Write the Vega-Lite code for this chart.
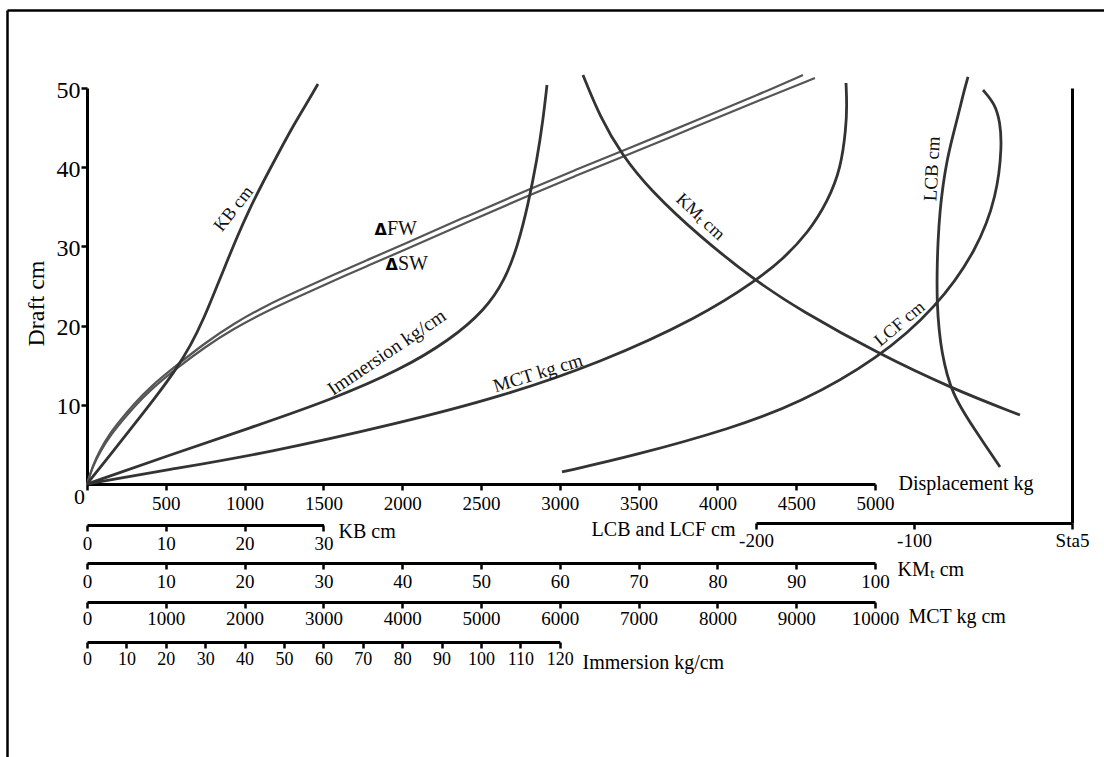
{
  "$schema": "https://vega.github.io/schema/vega-lite/v6.json",
  "autosize": "none",
  "width": 985,
  "height": 396,
  "padding": {"left": 87, "top": 88, "right": 32, "bottom": 273},
  "background": "white",
  "config": {
    "view": {"stroke": null},
    "axis": {
      "grid": false,
      "domainColor": "black",
      "domainWidth": 3,
      "tickColor": "black",
      "tickWidth": 2.5,
      "tickSize": 6,
      "labelColor": "black",
      "titleColor": "black",
      "labelFont": "Liberation Serif",
      "titleFont": "Liberation Serif",
      "titleFontWeight": "normal",
      "titleFontSize": 20,
      "labelFontSize": 19,
      "labelFlush": false,
      "labelOverlap": false,
      "labelBound": false
    },
    "text": {"font": "Liberation Serif", "fill": "#111"}
  },
  "datasets": {
    "displacement": [
      {"water": "FW", "displacement": 0, "draft": 0},
      {"water": "FW", "displacement": 38, "draft": 2.4},
      {"water": "FW", "displacement": 82, "draft": 4.29},
      {"water": "FW", "displacement": 146, "draft": 6.44},
      {"water": "FW", "displacement": 222, "draft": 8.33},
      {"water": "FW", "displacement": 292, "draft": 9.97},
      {"water": "FW", "displacement": 400, "draft": 12.25},
      {"water": "FW", "displacement": 571, "draft": 15.03},
      {"water": "FW", "displacement": 749, "draft": 17.8},
      {"water": "FW", "displacement": 926, "draft": 20.2},
      {"water": "FW", "displacement": 1142, "draft": 22.6},
      {"water": "FW", "displacement": 1351, "draft": 24.49},
      {"water": "FW", "displacement": 1561, "draft": 26.39},
      {"water": "FW", "displacement": 1777, "draft": 28.28},
      {"water": "FW", "displacement": 1986, "draft": 30.05},
      {"water": "FW", "displacement": 2398, "draft": 33.71},
      {"water": "FW", "displacement": 2811, "draft": 37.25},
      {"water": "FW", "displacement": 3096, "draft": 39.65},
      {"water": "FW", "displacement": 3382, "draft": 41.92},
      {"water": "FW", "displacement": 3889, "draft": 46.09},
      {"water": "FW", "displacement": 4270, "draft": 49.24},
      {"water": "FW", "displacement": 4543, "draft": 51.64},
      {"water": "SW", "displacement": 0, "draft": 0},
      {"water": "SW", "displacement": 38, "draft": 2.27},
      {"water": "SW", "displacement": 82, "draft": 4.04},
      {"water": "SW", "displacement": 146, "draft": 6.06},
      {"water": "SW", "displacement": 222, "draft": 7.95},
      {"water": "SW", "displacement": 292, "draft": 9.6},
      {"water": "SW", "displacement": 400, "draft": 11.87},
      {"water": "SW", "displacement": 571, "draft": 14.65},
      {"water": "SW", "displacement": 749, "draft": 17.3},
      {"water": "SW", "displacement": 926, "draft": 19.57},
      {"water": "SW", "displacement": 1142, "draft": 21.84},
      {"water": "SW", "displacement": 1351, "draft": 23.74},
      {"water": "SW", "displacement": 1561, "draft": 25.63},
      {"water": "SW", "displacement": 1777, "draft": 27.53},
      {"water": "SW", "displacement": 1986, "draft": 29.29},
      {"water": "SW", "displacement": 2398, "draft": 32.95},
      {"water": "SW", "displacement": 2811, "draft": 36.49},
      {"water": "SW", "displacement": 3096, "draft": 38.89},
      {"water": "SW", "displacement": 3382, "draft": 41.16},
      {"water": "SW", "displacement": 3889, "draft": 45.33},
      {"water": "SW", "displacement": 4270, "draft": 48.48},
      {"water": "SW", "displacement": 4619, "draft": 51.26}
    ],
    "kb": [
      {"kb": 0, "draft": 0},
      {"kb": 2.92, "draft": 3.66},
      {"kb": 5.84, "draft": 7.32},
      {"kb": 8.63, "draft": 10.86},
      {"kb": 11.17, "draft": 14.27},
      {"kb": 13.2, "draft": 17.55},
      {"kb": 14.85, "draft": 20.96},
      {"kb": 16.24, "draft": 24.37},
      {"kb": 17.64, "draft": 27.78},
      {"kb": 19.04, "draft": 31.19},
      {"kb": 20.56, "draft": 34.6},
      {"kb": 22.34, "draft": 38.13},
      {"kb": 24.24, "draft": 41.67},
      {"kb": 26.14, "draft": 45.2},
      {"kb": 28.3, "draft": 48.74},
      {"kb": 29.31, "draft": 50.51}
    ],
    "immersion": [
      {"immersion": 0, "draft": 0},
      {"immersion": 20.3, "draft": 3.54},
      {"immersion": 41.37, "draft": 7.07},
      {"immersion": 62.44, "draft": 10.73},
      {"immersion": 79.44, "draft": 14.39},
      {"immersion": 92.13, "draft": 18.18},
      {"immersion": 101.02, "draft": 21.97},
      {"immersion": 106.09, "draft": 25.76},
      {"immersion": 109.39, "draft": 30.18},
      {"immersion": 111.93, "draft": 35.23},
      {"immersion": 114.21, "draft": 40.91},
      {"immersion": 115.74, "draft": 45.96},
      {"immersion": 116.75, "draft": 50.38}
    ],
    "mct": [
      {"mct": 0, "draft": 0},
      {"mct": 1015, "draft": 1.77},
      {"mct": 2284, "draft": 3.91},
      {"mct": 3972, "draft": 7.7},
      {"mct": 5241, "draft": 10.98},
      {"mct": 6510, "draft": 15.28},
      {"mct": 7779, "draft": 21.09},
      {"mct": 8502, "draft": 25.76},
      {"mct": 8832, "draft": 28.41},
      {"mct": 9149, "draft": 31.69},
      {"mct": 9403, "draft": 35.73},
      {"mct": 9568, "draft": 39.9},
      {"mct": 9632, "draft": 44.95},
      {"mct": 9644, "draft": 47.85},
      {"mct": 9632, "draft": 50.63}
    ],
    "kmt": [
      {"kmt": 62.94, "draft": 51.64},
      {"kmt": 65.1, "draft": 46.34},
      {"kmt": 67.89, "draft": 41.54},
      {"kmt": 71.45, "draft": 37.12},
      {"kmt": 77.79, "draft": 31.19},
      {"kmt": 85.03, "draft": 25.51},
      {"kmt": 90.48, "draft": 21.97},
      {"kmt": 100.25, "draft": 16.54},
      {"kmt": 109.9, "draft": 11.99},
      {"kmt": 118.4, "draft": 8.71}
    ],
    "lcb": [
      {"lcb": -65.82, "draft": 51.39},
      {"lcb": -68.99, "draft": 49.12},
      {"lcb": -71.52, "draft": 46.97},
      {"lcb": -75.32, "draft": 44.07},
      {"lcb": -79.11, "draft": 40.91},
      {"lcb": -81.65, "draft": 37.75},
      {"lcb": -83.54, "draft": 34.6},
      {"lcb": -84.81, "draft": 30.81},
      {"lcb": -85.44, "draft": 27.02},
      {"lcb": -85.44, "draft": 22.85},
      {"lcb": -84.18, "draft": 19.44},
      {"lcb": -82.28, "draft": 16.54},
      {"lcb": -79.11, "draft": 13.76},
      {"lcb": -75.32, "draft": 11.49},
      {"lcb": -68.35, "draft": 8.96},
      {"lcb": -60.13, "draft": 6.44},
      {"lcb": -45.57, "draft": 2.15}
    ],
    "lcf": [
      {"lcf": -322.78, "draft": 1.52},
      {"lcf": -277.85, "draft": 3.54},
      {"lcf": -214.56, "draft": 7.07},
      {"lcf": -172.15, "draft": 10.23},
      {"lcf": -122.78, "draft": 15.78},
      {"lcf": -85.44, "draft": 22.35},
      {"lcf": -60.13, "draft": 29.55},
      {"lcf": -47.47, "draft": 36.36},
      {"lcf": -44.3, "draft": 42.8},
      {"lcf": -45.57, "draft": 45.71},
      {"lcf": -48.73, "draft": 47.98},
      {"lcf": -56.33, "draft": 49.75}
    ]
  },
  "resolve": {
    "scale": {"x": "independent", "y": "independent"},
    "axis": {"x": "independent", "y": "independent"}
  },
  "layer": [
    {
      "layer": [
        {
          "data": {"name": "displacement"},
          "mark": {"type": "line", "interpolate": "basis", "stroke": "#555555", "strokeWidth": 2.2},
          "encoding": {
            "x": {
              "field": "displacement", "type": "quantitative",
              "scale": {"domain": [0, 5000], "range": [0, 788], "nice": false, "zero": false},
              "axis": {
                "orient": "bottom",
                "values": [0, 500, 1000, 1500, 2000, 2500, 3000, 3500, 4000, 4500, 5000],
                "format": "d",
                "title": "Displacement kg",
                "titleX": 811, "titleY": 5, "titleAlign": "left", "titleBaseline": "alphabetic",
                "labelFontSize": {"condition": {"test": "datum.value == 0", "value": 22}, "value": 19},
                "labelOffset": {"condition": {"test": "datum.value == 0", "value": -8}, "value": 0},
                "labelPadding": {"condition": {"test": "datum.value == 0", "value": -4}, "value": 4}
              }
            },
            "y": {
              "field": "draft", "type": "quantitative",
              "scale": {"domain": [0, 50], "nice": false, "zero": false},
              "axis": {
                "orient": "left",
                "values": [10, 20, 30, 40, 50],
                "labelFontSize": 24, "labelPadding": 1, "labelOffset": 2,
                "title": "Draft cm", "titleFontSize": 24,
                "titleX": -51, "titleY": 215, "titleAngle": -90,
                "titleAlign": "center", "titleBaseline": "middle"
              }
            },
            "detail": {"field": "water"},
            "order": {"field": "draft"}
          }
        },
        {
          "data": {"values": [
            {"sym": "Δ", "name": "FW", "displacement": 1903, "draft": 31.44},
            {"sym": "Δ", "name": "SW", "displacement": 1973, "draft": 27.02}
          ]},
          "mark": {"type": "text", "align": "right", "baseline": "alphabetic", "font": "DejaVu Sans", "fontWeight": "bold", "fontSize": 16, "fill": "black"},
          "encoding": {
            "x": {"field": "displacement", "type": "quantitative"},
            "y": {"field": "draft", "type": "quantitative"},
            "text": {"field": "sym"}
          }
        },
        {
          "data": {"values": [
            {"sym": "Δ", "name": "FW", "displacement": 1903, "draft": 31.44},
            {"sym": "Δ", "name": "SW", "displacement": 1973, "draft": 27.02}
          ]},
          "mark": {"type": "text", "align": "left", "baseline": "alphabetic", "fontSize": 20},
          "encoding": {
            "x": {"field": "displacement", "type": "quantitative"},
            "y": {"field": "draft", "type": "quantitative"},
            "text": {"field": "name"}
          }
        }
      ]
    },
    {
      "layer": [
        {
          "data": {"name": "kb"},
          "mark": {"type": "line", "interpolate": "basis", "stroke": "#333333", "strokeWidth": 2.8},
          "encoding": {
            "x": {
              "field": "kb", "type": "quantitative",
              "scale": {"domain": [0, 30], "range": [0, 236.4], "nice": false, "zero": false},
              "axis": {
                "orient": "bottom", "offset": 41, "values": [0, 10, 20, 30],
                "title": "KB cm", "titleX": 251, "titleY": 12, "titleAlign": "left", "titleBaseline": "alphabetic",
                "labelPadding": 3
              }
            },
            "y": {
              "field": "draft", "type": "quantitative",
              "scale": {"domain": [-34.47, 59.848], "range": [669, -78], "nice": false, "zero": false},
              "axis": {"orient": "left", "offset": 80, "ticks": false, "labels": false, "title": null, "domainWidth": 2.5}
            },
            "order": {"field": "draft"}
          }
        },
        {
          "data": {"values": [{"label": "KB cm", "kb": 18.65, "draft": 34.72}]},
          "mark": {"type": "text", "angle": -52, "align": "center", "baseline": "middle", "fontSize": 18},
          "encoding": {
            "x": {"field": "kb", "type": "quantitative"},
            "y": {"field": "draft", "type": "quantitative"},
            "text": {"field": "label"}
          }
        }
      ]
    },
    {
      "layer": [
        {
          "data": {"name": "kmt"},
          "mark": {"type": "line", "interpolate": "basis", "stroke": "#333333", "strokeWidth": 2.8},
          "encoding": {
            "x": {
              "field": "kmt", "type": "quantitative",
              "scale": {"domain": [0, 100], "range": [0, 788], "nice": false, "zero": false},
              "axis": {
                "orient": "bottom", "offset": 79, "values": [0, 10, 20, 30, 40, 50, 60, 70, 80, 90, 100],
                "title": "KMₜ cm", "titleX": 810, "titleY": 12, "titleAlign": "left", "titleBaseline": "alphabetic",
                "labelPadding": 3
              }
            },
            "y": {
              "field": "draft", "type": "quantitative",
              "scale": {"domain": [0, 50], "nice": false, "zero": false},
              "axis": null
            },
            "order": {"field": "draft"}
          }
        },
        {
          "data": {"values": [{"label": "KMₜ cm", "kmt": 77.8, "draft": 33.7}]},
          "mark": {"type": "text", "angle": 43, "align": "center", "baseline": "middle", "fontSize": 18},
          "encoding": {
            "x": {"field": "kmt", "type": "quantitative"},
            "y": {"field": "draft", "type": "quantitative"},
            "text": {"field": "label"}
          }
        }
      ]
    },
    {
      "layer": [
        {
          "data": {"name": "mct"},
          "mark": {"type": "line", "interpolate": "basis", "stroke": "#333333", "strokeWidth": 2.8},
          "encoding": {
            "x": {
              "field": "mct", "type": "quantitative",
              "scale": {"domain": [0, 10000], "range": [0, 788], "nice": false, "zero": false},
              "axis": {
                "orient": "bottom", "offset": 118,
                "values": [0, 1000, 2000, 3000, 4000, 5000, 6000, 7000, 8000, 9000, 10000],
                "format": "d",
                "title": "MCT kg cm", "titleX": 821, "titleY": 20, "titleAlign": "left", "titleBaseline": "alphabetic",
                "labelPadding": 1
              }
            },
            "y": {
              "field": "draft", "type": "quantitative",
              "scale": {"domain": [0, 50], "nice": false, "zero": false},
              "axis": null
            },
            "order": {"field": "draft"}
          }
        },
        {
          "data": {"values": [{"label": "MCT kg cm", "mct": 5723, "draft": 14.0}]},
          "mark": {"type": "text", "angle": -17, "align": "center", "baseline": "middle", "fontSize": 19},
          "encoding": {
            "x": {"field": "mct", "type": "quantitative"},
            "y": {"field": "draft", "type": "quantitative"},
            "text": {"field": "label"}
          }
        }
      ]
    },
    {
      "layer": [
        {
          "data": {"name": "immersion"},
          "mark": {"type": "line", "interpolate": "basis", "stroke": "#333333", "strokeWidth": 2.8},
          "encoding": {
            "x": {
              "field": "immersion", "type": "quantitative",
              "scale": {"domain": [0, 120], "range": [0, 472.8], "nice": false, "zero": false},
              "axis": {
                "orient": "bottom", "offset": 158,
                "values": [0, 10, 20, 30, 40, 50, 60, 70, 80, 90, 100, 110, 120],
                "title": "Immersion kg/cm", "titleX": 495, "titleY": 26, "titleAlign": "left", "titleBaseline": "alphabetic",
                "labelPadding": 2, "labelFontSize": 18
              }
            },
            "y": {
              "field": "draft", "type": "quantitative",
              "scale": {"domain": [0, 50], "nice": false, "zero": false},
              "axis": null
            },
            "order": {"field": "draft"}
          }
        },
        {
          "data": {"values": [{"label": "Immersion kg/cm", "immersion": 76.1, "draft": 16.6}]},
          "mark": {"type": "text", "angle": -34, "align": "center", "baseline": "middle", "fontSize": 19.5},
          "encoding": {
            "x": {"field": "immersion", "type": "quantitative"},
            "y": {"field": "draft", "type": "quantitative"},
            "text": {"field": "label"}
          }
        }
      ]
    },
    {
      "layer": [
        {
          "data": {"name": "lcb"},
          "mark": {"type": "line", "interpolate": "basis", "stroke": "#333333", "strokeWidth": 2.8},
          "encoding": {
            "x": {
              "field": "lcb", "type": "quantitative",
              "scale": {"domain": [-200, 0], "range": [669, 985], "nice": false, "zero": false},
              "axis": {
                "orient": "bottom", "offset": 39, "values": [-200, -100, 0],
                "labelExpr": "datum.value == 0 ? 'Sta5' : '' + datum.value",
                "title": "LCB and LCF cm", "titleX": 648, "titleY": 12, "titleAlign": "right", "titleBaseline": "alphabetic",
                "labelPadding": 2
              }
            },
            "y": {
              "field": "draft", "type": "quantitative",
              "scale": {"domain": [-4.924, 50], "range": [435, 0], "nice": false, "zero": false},
              "axis": {"orient": "right", "ticks": false, "labels": false, "title": null}
            },
            "order": {"field": "draft"}
          }
        },
        {
          "data": {"values": [{"label": "LCB cm", "lcb": -88.6, "draft": 39.8}]},
          "mark": {"type": "text", "angle": -87, "align": "center", "baseline": "middle", "fontSize": 19},
          "encoding": {
            "x": {"field": "lcb", "type": "quantitative"},
            "y": {"field": "draft", "type": "quantitative"},
            "text": {"field": "label"}
          }
        }
      ]
    },
    {
      "layer": [
        {
          "data": {"name": "lcf"},
          "mark": {"type": "line", "interpolate": "basis", "stroke": "#333333", "strokeWidth": 2.8},
          "encoding": {
            "x": {
              "field": "lcf", "type": "quantitative",
              "scale": {"domain": [-674.05, 20.25], "range": [-80, 1017], "nice": false, "zero": false},
              "axis": {"orient": "top", "offset": 78, "ticks": false, "labels": false, "title": null, "domainWidth": 2.5}
            },
            "y": {
              "field": "draft", "type": "quantitative",
              "scale": {"domain": [0, 50], "nice": false, "zero": false},
              "axis": null
            },
            "order": {"field": "draft"}
          }
        },
        {
          "data": {"values": [{"label": "LCF cm", "lcf": -108.9, "draft": 20.2}]},
          "mark": {"type": "text", "angle": -40, "align": "center", "baseline": "middle", "fontSize": 18},
          "encoding": {
            "x": {"field": "lcf", "type": "quantitative"},
            "y": {"field": "draft", "type": "quantitative"},
            "text": {"field": "label"}
          }
        }
      ]
    }
  ]
}
